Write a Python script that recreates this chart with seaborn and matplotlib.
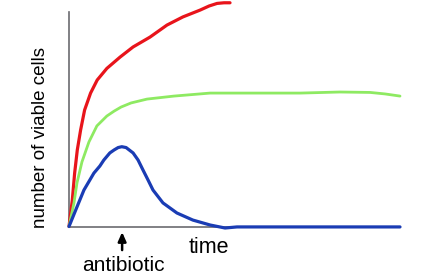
import matplotlib
matplotlib.use("Agg")
import matplotlib.pyplot as plt
import seaborn as sns
import pandas as pd

# time (arbitrary units) vs number of viable cells (arbitrary units)
red_t = [0, 1.0, 1.7, 2.5, 3.5, 4.7, 6.5, 8.5, 11.4, 15.4, 19.3, 24.4, 29.5, 34.3,
         39.5, 42.2, 44.6, 46.7, 48.5]
red_v = [0, 12.4, 24.9, 35.7, 45.0, 54.3, 62.2, 68.3, 73.7, 79.0, 83.7, 88.3, 93.9, 97.7,
         100.9, 102.8, 104.0, 104.3, 104.3]

green_t = [0, 1.5, 2.4, 3.9, 6.0, 8.4, 11.4, 13.6, 15.7, 18.7, 23.5, 31.6, 42.5, 51.5,
           60.5, 69.6, 81.6, 90.7, 95.2, 99.7]
green_v = [0, 11.0, 20.3, 30.1, 39.4, 46.9, 51.5, 53.8, 55.7, 57.6, 59.4, 60.8, 62.2, 62.2,
           62.2, 62.2, 62.7, 62.5, 61.8, 60.8]

blue_t = [0, 2.4, 4.5, 7.5, 9.3, 10.5, 12.3, 13.6, 14.8, 15.9, 17.2, 19.3, 20.8, 22.3,
          23.8, 25.3, 28.3, 32.5, 37.3, 42.5, 47.0, 50.6, 57.5, 99.7]
blue_v = [0, 9.1, 17.0, 24.9, 28.2, 31.0, 34.3, 35.7, 36.8, 37.2, 36.8, 34.3, 31.0, 26.3,
          21.7, 17.0, 11.0, 6.3, 3.0, 0.7, -0.7, -0.2, -0.2, -0.2]

antibiotic_time = 16.0

x_label = "time"
y_label = "number of viable cells"
arrow_label = "antibiotic"

plt.rcParams['font.family'] = ['Liberation Sans', 'DejaVu Sans']

fig = plt.figure(figsize=(4.25, 2.8), dpi=100)
ax = fig.add_axes([69/425, 53.5/280, 332/425, 214.5/280])

series = [
    (red_t, red_v, "#e8141b", 2.3),
    (green_t, green_v, "#8eea62", 2.0),
    (blue_t, blue_v, "#1a3cb4", 2.3),
]
for t, v, c, lw in series:
    df = pd.DataFrame({"t": t, "v": v})
    sns.lineplot(data=df, x="t", y="v", ax=ax, color=c, linewidth=lw,
                 sort=False, clip_on=False, zorder=3,
                 solid_joinstyle="round", solid_capstyle="round")

ax.set_xlim(0, 100)
ax.set_ylim(0, 100)
ax.set_xticks([])
ax.set_yticks([])
ax.set_xlabel("")
ax.set_ylabel("")
for s in ["top", "right"]:
    ax.spines[s].set_visible(False)
for s in ["left", "bottom"]:
    ax.spines[s].set_color("#6b6b70")
    ax.spines[s].set_linewidth(1.2)
ax.spines["bottom"].set_bounds(0, 50)

ax.annotate("", xy=(antibiotic_time, -2.6), xytext=(antibiotic_time, -11.0),
            xycoords="data", textcoords="data", annotation_clip=False,
            arrowprops=dict(arrowstyle="-|>,head_length=0.45,head_width=0.2",
                            mutation_scale=12, color="black", lw=1.8,
                            shrinkA=0, shrinkB=0))
ax.text(antibiotic_time + 0.3, -18.2, arrow_label, ha="center", va="center",
        fontsize=15, color="black", clip_on=False)
ax.text(42.2, -10, x_label, ha="center", va="center", fontsize=15.5,
        color="black", clip_on=False)

fig.text(41/425, 1 - 137/280, y_label, rotation=90, ha="center", va="center",
         fontsize=13.5, color="black")

fig.savefig("out.png", dpi=100, facecolor="white")
